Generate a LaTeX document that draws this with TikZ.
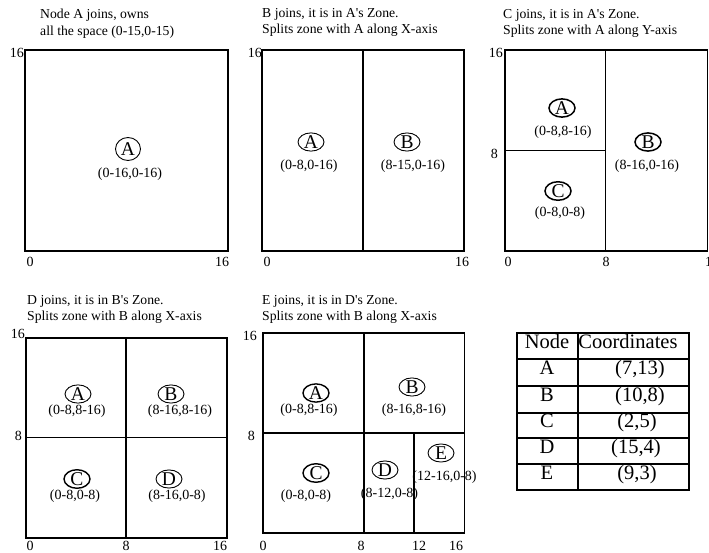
\documentclass[tikz,border=0pt]{standalone}
\usepackage{fontspec}
\setmainfont{Liberation Serif}[Ligatures=TeXOff]
\usetikzlibrary{shapes.geometric}
\begin{document}
\begin{tikzpicture}[x=1pt,y=-1pt,
  frame/.style={line width=1.2pt},
  boldframe/.style={line width=1.8pt},
  inner/.style={line width=1.1pt},
  zone/.style={draw, ellipse, inner sep=0pt, minimum width=26pt, minimum height=18pt,
               line width=0.9pt, font=\fontsize{19.5}{19.5}\selectfont},
  boldzone/.style={zone, line width=1.5pt},
  coord/.style={inner sep=0pt, font=\fontsize{14}{14}\selectfont},
  title/.style={inner sep=0pt, anchor=north west, align=left,
                font=\fontsize{13.7}{16.5}\selectfont},
  axis/.style={inner sep=0pt, anchor=base, font=\fontsize{14}{14}\selectfont},
  yaxis/.style={axis, anchor=base east},
  cell/.style={inner sep=0pt, text height=0.7em, text depth=0.22em,
               font=\fontsize{20.5}{20.5}\selectfont},
  tabline/.style={line width=1.2pt}]
\useasboundingbox (0,0) rectangle (709,553);

% ---------- Panel 1 ----------
\draw[frame] (25,50) rectangle (228,251);
\node[title] (t1) at (40,8.8) {Node A joins, owns\\all the space (0-15,0-15)};
\node[zone, minimum width=25pt, minimum height=23pt] (p1a) at (128,149) {A};
\node[coord] (p1ac) at (130,174.5) {(0-16,0-16)};
\node[yaxis] (p1y16) at (24,57.5) {16};
\node[axis] (p1x0) at (30,267) {0};
\node[axis] (p1x16) at (222,267) {16};

% ---------- Panel 2 ----------
\draw[frame] (262,50) rectangle (464,251);
\draw[inner] (363,50) -- (363,251);
\node[title] (t2) at (262,8) {B joins, it is in A's Zone.\\Splits zone with A along X-axis};
\node[zone] (p2a) at (311,142) {A};
\node[coord] (p2ac) at (309,166) {(0-8,0-16)};
\node[zone] (p2b) at (407,142) {B};
\node[coord] (p2bc) at (413,166) {(8-15,0-16)};
\node[yaxis] (p2y16) at (262,57.5) {16};
\node[axis] (p2x0) at (267,267) {0};
\node[axis] (p2x16) at (462,267) {16};

% ---------- Panel 3 ----------
\draw[boldframe] (505,50) rectangle (707.5,251);
\draw[boldframe] (605.5,50) -- (605.5,251);
\draw[boldframe] (505,150.5) -- (605.5,150.5);
\node[title] (t3) at (503,8.8) {C joins, it is in A's Zone.\\Splits zone with A along Y-axis};
\node[boldzone] (p3a) at (562,108) {A};
\node[coord] (p3ac) at (563,132) {(0-8,8-16)};
\node[boldzone] (p3b) at (648,142) {B};
\node[coord] (p3bc) at (647,166) {(8-16,0-16)};
\node[boldzone] (p3c) at (558,191) {C};
\node[coord] (p3cc) at (560,213) {(0-8,0-8)};
\node[yaxis] (p3y16) at (503,57.5) {16};
\node[yaxis] (p3y8) at (498,159) {8};
\node[axis] (p3x0) at (508,266) {0};
\node[axis] (p3x8) at (606,266) {8};
\node[axis, anchor=base west] (p3x16) at (705,266) {16};

% ---------- Panel 4 ----------
\draw[frame] (26,338) rectangle (227,538);
\draw[inner] (126,338) -- (126,538);
\draw[inner] (26,437.5) -- (227,437.5);
\node[title] (t4) at (27,295) {D joins, it is in B's Zone.\\Splits zone with B along X-axis};
\node[zone] (p4a) at (78,394) {A};
\node[coord] (p4ac) at (77,411) {(0-8,8-16)};
\node[zone] (p4b) at (171,394) {B};
\node[coord] (p4bc) at (180,411) {(8-16,8-16)};
\node[zone, line width=1.4pt] (p4c) at (77,479) {C};
\node[coord] (p4cc) at (75,496) {(0-8,0-8)};
\node[zone] (p4d) at (169,479) {D};
\node[coord] (p4dc) at (177,496) {(8-16,0-8)};
\node[yaxis] (p4y16) at (25,338) {16};
\node[yaxis] (p4y8) at (22,440) {8};
\node[axis] (p4x0) at (30,550) {0};
\node[axis] (p4x8) at (126,550) {8};
\node[axis] (p4x16) at (220,550) {16};

% ---------- Panel 5 ----------
\draw[frame] (263,333) rectangle (464.5,533);
\draw[inner] (364,333) -- (364,533);
\draw[inner] (263,433) -- (464.5,433);
\draw[inner] (414,433) -- (414,533);
\node[title] (t5) at (262,295) {E joins, it is in D's Zone.\\Splits zone with B along X-axis};
\node[zone, line width=1.4pt] (p5a) at (316,393) {A};
\node[coord] (p5ac) at (309,410.5) {(0-8,8-16)};
\node[zone] (p5b) at (412,387) {B};
\node[coord] (p5bc) at (414,410.5) {(8-16,8-16)};
\node[zone, line width=1.4pt] (p5c) at (316,473) {C};
\node[coord] (p5cc) at (306,496) {(0-8,0-8)};
\node[zone] (p5d) at (385,470) {D};
\node[coord] (p5dc) at (389.5,494) {(8-12,0-8)};
\node[zone] (p5e) at (441,453) {E};
\node[coord] (p5ec) at (444.5,477.5) {(12-16,0-8)};
\node[yaxis] (p5y16) at (257,340) {16};
\node[yaxis] (p5y8) at (255,440) {8};
\node[axis] (p5x0) at (263,550) {0};
\node[axis] (p5x8) at (361,550) {8};
\node[axis] (p5x12) at (419,550) {12};
\node[axis] (p5x16) at (456,550) {16};

% ---------- Table ----------
\draw[tabline] (517,333) rectangle (689,490);
\draw[tabline] (578,333) -- (578,490);
\foreach \yy in {359,386,413,438,464} \draw[tabline] (517,\yy) -- (689,\yy);
\node[cell] (hn) at (547,346) {Node};
\node[cell] (hc) at (628,346) {Coordinates};
\node[cell] (na) at (547,372.5) {A};
\node[cell] (ca) at (640,372.5) {(7,13)};
\node[cell] (nb) at (547,399.5) {B};
\node[cell] (cb) at (640,399.5) {(10,8)};
\node[cell] (nc) at (547,425.5) {C};
\node[cell] (cc) at (637,425.5) {(2,5)};
\node[cell] (nd) at (547,451) {D};
\node[cell] (cd) at (636,451) {(15,4)};
\node[cell] (ne) at (547,477) {E};
\node[cell] (ce) at (637,477) {(9,3)};
\end{tikzpicture}
\end{document}
